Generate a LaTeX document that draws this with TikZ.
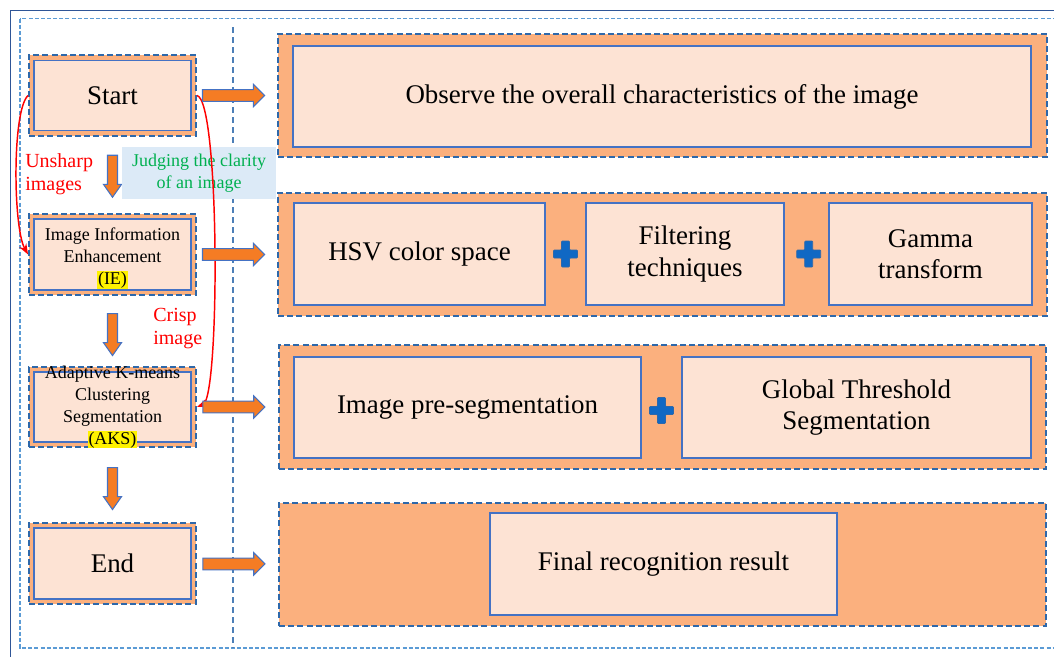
\documentclass[tikz,border=0pt]{standalone}
\usepackage{fontspec}
\setmainfont{Liberation Serif}
\usepackage{xcolor}
\usetikzlibrary{arrows.meta, positioning, shapes.arrows, calc}

\definecolor{panelorange}{RGB}{251,176,126}
\definecolor{boxpeach}{RGB}{253,227,212}
\definecolor{dashblue}{RGB}{46,104,170}
\definecolor{lineblue}{RGB}{68,114,196}
\definecolor{framelight}{RGB}{91,155,213}
\definecolor{frameblue}{RGB}{47,85,151}
\definecolor{arroworange}{RGB}{245,124,36}
\definecolor{plusblue}{RGB}{16,104,196}
\definecolor{notebg}{RGB}{220,234,247}
\definecolor{notegreen}{RGB}{0,176,80}

\newcommand{\hlmark}[1]{{\setlength{\fboxsep}{0.4pt}\colorbox{yellow}{#1}}}

\begin{document}
\begin{tikzpicture}[
    x=0.75pt, y=-0.75pt,
    >=Stealth,
    panel/.style={rectangle, draw=dashblue, line width=1.4pt, dash pattern=on 4.5pt off 2.4pt, fill=panelorange, inner sep=0pt},
    stepbox/.style={rectangle, draw=lineblue, line width=0.9pt, fill=boxpeach, align=center, inner sep=2pt, font=\fontsize{20.2}{23.5}\selectfont},
    smallbox/.style={stepbox, font=\fontsize{13.5}{16.5}\selectfont},
    notebox/.style={rectangle, fill=notebg, text=notegreen, align=center, inner sep=0pt, minimum width=115.5pt, minimum height=39pt, font=\fontsize{13.5}{16.5}\selectfont},
    redlabel/.style={text=red, align=left, anchor=west, inner sep=0pt, font=\fontsize{15}{17.25}\selectfont},
    rarrow/.style={single arrow, draw=lineblue, fill=arroworange, line width=0.8pt, inner sep=4pt, minimum width=16.5pt, single arrow head extend=4pt, minimum height=46.5pt},
    darrow/.style={single arrow, draw=lineblue, fill=arroworange, line width=0.8pt, rotate=-90, inner sep=3.3pt, minimum width=13.5pt, single arrow head extend=3pt, single arrow tip angle=70, minimum height=31.5pt},
    redcurve/.style={->, red, line width=1.1pt},
    plussign/.pic={\draw[draw=dashblue, fill=plusblue, line width=0.5pt, rounded corners=0.6pt] (-4,-13) -- (4,-13) -- (4,-4) -- (12,-4) -- (12,4) -- (4,4) -- (4,13) -- (-4,13) -- (-4,4) -- (-12,4) -- (-12,-4) -- (-4,-4) -- cycle;}
]
\useasboundingbox (0,0) rectangle (1054,657);

% =============================================================
% Framing lines
% =============================================================
\draw[frameblue, line width=1.2pt] (10.5,10.5) rectangle (1070,670);
\draw[framelight, line width=1pt, dash pattern=on 3pt off 1.6pt] (20,18.5) rectangle (1062,648);
\draw[dashblue!85, line width=1pt, dash pattern=on 4.5pt off 3pt] (233,27) -- (233,648);

% =============================================================
% Left column: process steps
% =============================================================
\node[panel, minimum width=125.25pt, minimum height=60.75pt] (startf) at (112.5,95.5) {};
\node[stepbox, minimum width=117.75pt, minimum height=52.5pt] (start) at (startf) {Start};

\node[panel, minimum width=125.25pt, minimum height=60.75pt] (ief) at (112.5,254.5) {};
\node[smallbox, inner ysep=0pt, minimum width=117.75pt, minimum height=53.25pt] (ie) at (ief) {\rule{0pt}{15pt}Image Information\\Enhancement\\\hlmark{(IE)}};

\node[panel, minimum width=125.25pt, minimum height=60pt] (aksf) at (112.5,407) {};
\node[smallbox, inner ysep=-8pt, minimum width=117.75pt, minimum height=52.5pt] (aks) at (aksf) {Adaptive K-means\\Clustering\\Segmentation\\\hlmark{(AKS)}};

\node[panel, minimum width=125.25pt, minimum height=60.75pt] (endf) at (112.5,563.5) {};
\node[stepbox, minimum width=117.75pt, minimum height=53.25pt] (end) at (endf) {End};

% Downward flow
\node[darrow] (down1) at ($(startf.south)!0.47!(ief.north)$) {};
\node[darrow] (down2) at ($(ief.south)!0.5!(aksf.north)$) {};
\node[darrow] (down3) at ($(aksf.south)!0.5!(endf.north)$) {};

% Clarity check
\node[notebox] (judge) at (199,173) {Judging the clarity\\of an image};
\node[redlabel] (unsharp) at (25,174) {Unsharp\\images};
\node[redlabel] (crisp) at (153,329) {Crisp\\image};

\draw[redcurve] (startf.west) .. controls (12,110) and (13,228) .. (ief.west);
\draw[redcurve] (startf.east) .. controls (220,100) and (220,398) .. (aksf.east);

% =============================================================
% Right column: details of each step
% =============================================================
% Row 1
\node[panel, minimum width=576.75pt, minimum height=92.25pt] (obsf) at (662.5,95.5) {};
\node[stepbox, minimum width=553.5pt, minimum height=75.75pt] (obs) at (662,96.5) {Observe the overall characteristics of the image};

% Row 2
\node[panel, minimum width=576.75pt, minimum height=92.25pt] (enhf) at (662.5,254.5) {};
\node[stepbox, minimum width=188.25pt, minimum height=76.5pt] (hsv) at (419.5,254) {HSV color space};
\node[stepbox, minimum width=148.5pt, minimum height=76.5pt] (filter) at (685,254) {Filtering\\techniques};
\node[stepbox, minimum width=152.25pt, minimum height=76.5pt] (gamma) at (930.5,254) {Gamma\\transform};
\pic at ($(hsv.east)!0.5!(filter.west)$) {plussign};
\pic at ($(filter.east)!0.55!(gamma.west)$) {plussign};

% Row 3
\node[panel, minimum width=575.25pt, minimum height=93pt] (segf) at (662.5,407) {};
\node[stepbox, minimum width=260.25pt, minimum height=75.75pt] (preseg) at (467.5,407.5) {Image pre-segmentation};
\node[stepbox, minimum width=261.75pt, minimum height=75.75pt] (globseg) at (856.5,407.5) {Global Threshold\\Segmentation};
\pic at ($(preseg.east)!0.5!(globseg.west)+(0,3)$) {plussign};

% Row 4
\node[panel, minimum width=575.25pt, minimum height=92.25pt] (resf) at (662.5,564.5) {};
\node[stepbox, minimum width=260.25pt, minimum height=76.5pt] (result) at (663.5,564) {Final recognition result};

% Step-to-detail arrows
\node[rarrow] (toobs) at ($(startf.east)!0.42!(obsf.west)$) {};
\node[rarrow] (toenh) at ($(ief.east)!0.42!(enhf.west)$) {};
\node[rarrow] (toseg) at ($(aksf.east)!0.42!(segf.west)$) {};
\node[rarrow] (tores) at ($(endf.east)!0.42!(resf.west)$) {};

\end{tikzpicture}
\end{document}
